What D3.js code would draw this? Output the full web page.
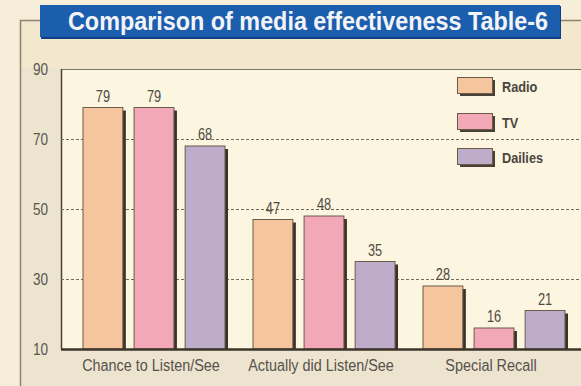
<!DOCTYPE html>
<html><head><meta charset="utf-8">
<script src="https://cdn.jsdelivr.net/npm/d3@7"></script>
<style>
html,body{margin:0;padding:0;background:#f6eed8;}
svg{display:block;}
</style></head>
<body>
<svg id="chart" width="581" height="386"></svg>
<script>
const title = "Comparison of media effectiveness Table-6";
const categories = ["Chance to Listen/See", "Actually did Listen/See", "Special Recall"];
const seriesNames = ["Radio", "TV", "Dailies"];
const radio = [79, 47, 28];
const tv = [79, 48, 16];
const dailies = [68, 35, 21];
const yTicks = [10, 30, 50, 70, 90];
const gridTicks = [30, 50, 70];
const colors = ["#f5c69e", "#f2a8b6", "#bdadca"];

const seriesValues = [radio, tv, dailies];
const W = 581, H = 386;
const font = '"Liberation Sans",Arial,sans-serif';
const svg = d3.select("#chart");

function condense(sel, f) {
  sel.each(function() {
    const w = this.getComputedTextLength();
    d3.select(this).attr("textLength", (w * f).toFixed(1)).attr("lengthAdjust", "spacingAndGlyphs");
  });
}

// backgrounds
svg.append("rect").attr("x", 0).attr("y", 0).attr("width", W).attr("height", H).attr("fill", "#f6eed8");
svg.append("rect").attr("x", 20).attr("y", 20).attr("width", W - 20).attr("height", H - 20).attr("fill", "#ede4cf");
svg.append("rect").attr("x", 20).attr("y", 20).attr("width", W - 20).attr("height", 48).attr("fill", "#f3e7cd");
svg.append("path").attr("d", "M20.5,386 V20.5 H581").attr("fill", "none").attr("stroke", "#8a8272").attr("stroke-width", 1.5);

const pLeft = 61, pRight = 581, pTop = 69, pBottom = 349;
const y = d3.scaleLinear().domain([10, 90]).range([pBottom, pTop]);
const x0 = d3.scaleBand().domain(categories).range([69, 579]).paddingInner(0).paddingOuter(0);
const x1 = d3.scaleBand().domain(seriesNames).range([14, 156]).paddingInner(0.22);

// plot area
svg.append("rect").attr("x", pLeft).attr("y", pTop).attr("width", pRight - pLeft).attr("height", pBottom - pTop)
  .attr("fill", "#fcf5e0");
svg.append("line").attr("x1", pLeft).attr("x2", pRight).attr("y1", pTop + 0.5).attr("y2", pTop + 0.5)
  .attr("stroke", "#7d7566").attr("stroke-width", 1.2);
svg.append("line").attr("x1", pLeft + 0.5).attr("x2", pLeft + 0.5).attr("y1", pTop).attr("y2", pBottom)
  .attr("stroke", "#4a4236").attr("stroke-width", 1.5);

// grid
svg.append("g").selectAll("line").data(gridTicks).join("line")
  .attr("x1", pLeft).attr("x2", pRight)
  .attr("y1", d => y(d) + 0.5).attr("y2", d => y(d) + 0.5)
  .attr("stroke", "#6f6a60").attr("stroke-width", 1).attr("stroke-dasharray", "3,2");

// y axis
const yAxis = d3.axisLeft(y).tickValues(yTicks).tickSize(0).tickPadding(13).tickFormat(d3.format("d"));
const ga = svg.append("g").attr("transform", `translate(${pLeft},0)`).call(yAxis);
ga.select(".domain").remove();
ga.selectAll("text").attr("font-family", font).attr("font-size", 17).attr("fill", "#5a5650");
condense(ga.selectAll("text"), 0.8);

// bars
const rows = [];
categories.forEach((c, i) => seriesNames.forEach((s, j) => rows.push({c, s, j, v: seriesValues[j][i]})));
const gb = svg.append("g");
gb.selectAll("rect.sh").data(rows).join("rect").attr("class", "sh")
  .attr("x", d => x0(d.c) + x1(d.s) + 3)
  .attr("y", d => y(d.v) + 3)
  .attr("width", x1.bandwidth())
  .attr("height", d => pBottom - y(d.v) - 3)
  .attr("fill", "#3b3129");
gb.selectAll("rect.bar").data(rows).join("rect").attr("class", "bar")
  .attr("x", d => x0(d.c) + x1(d.s))
  .attr("y", d => y(d.v))
  .attr("width", x1.bandwidth())
  .attr("height", d => pBottom - y(d.v))
  .attr("fill", d => colors[d.j])
  .attr("stroke", "#6a5a4a").attr("stroke-width", 1);
const vt = gb.selectAll("text").data(rows).join("text")
  .attr("x", d => x0(d.c) + x1(d.s) + x1.bandwidth() / 2)
  .attr("y", d => y(d.v) - 6)
  .attr("text-anchor", "middle")
  .attr("font-family", font).attr("font-size", 16).attr("fill", "#4e4a44")
  .text(d => d.v);
condense(vt, 0.8);

// baseline
svg.append("line").attr("x1", pLeft).attr("x2", pRight).attr("y1", pBottom + 0.5).attr("y2", pBottom + 0.5)
  .attr("stroke", "#3e362c").attr("stroke-width", 2.5);

// x labels
const xl = svg.append("g").selectAll("text").data(categories).join("text")
  .attr("x", d => x0(d) + x0.bandwidth() / 2 - 3)
  .attr("y", 371)
  .attr("text-anchor", "middle")
  .attr("font-family", font).attr("font-size", 16).attr("fill", "#55524c")
  .text(d => d);
condense(xl, 0.9);

// legend
const lg = svg.append("g");
const legY = [87, 123, 158];
seriesNames.forEach((s, j) => {
  lg.append("rect").attr("x", 460).attr("y", legY[j] - 7).attr("width", 35).attr("height", 16).attr("fill", "#4a4036");
  lg.append("rect").attr("x", 457.5).attr("y", legY[j] - 9.5).attr("width", 35).attr("height", 16)
    .attr("fill", colors[j]).attr("stroke", "#6a5a4a").attr("stroke-width", 1);
  const t = lg.append("text").attr("x", 502).attr("y", legY[j] + 5)
    .attr("font-family", font).attr("font-weight", "bold").attr("font-size", 15).attr("fill", "#4a4640")
    .text(s);
  condense(t, 0.85);
});

// title
svg.append("rect").attr("x", 41).attr("y", 6).attr("width", 520).attr("height", 33).attr("fill", "#0f3f86");
svg.append("rect").attr("x", 40).attr("y", 5).attr("width", 520).attr("height", 32).attr("fill", "#1b5eae");
svg.append("text").attr("x", 308).attr("y", 30).attr("text-anchor", "middle")
  .attr("font-family", font).attr("font-weight", "bold").attr("font-size", 25).attr("fill", "#f4f4f8")
  .attr("textLength", 480).attr("lengthAdjust", "spacingAndGlyphs")
  .text(title);
</script>
</body></html>
